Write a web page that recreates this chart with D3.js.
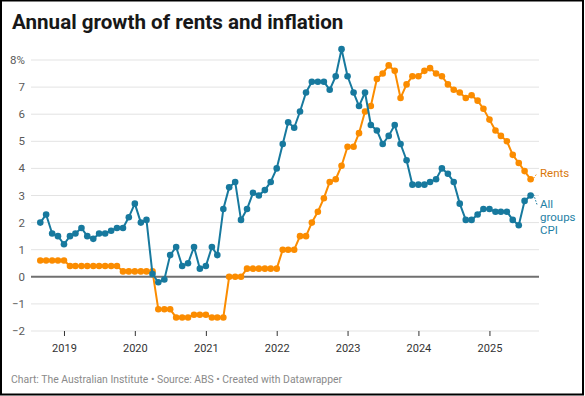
<!DOCTYPE html>
<html>
<head>
<meta charset="utf-8">
<script src="https://cdn.jsdelivr.net/npm/d3@7"></script>
<style>
  body { margin: 0; background: #fff; }
  svg { font-family: Roboto, "Noto Sans", sans-serif; }
</style>
</head>
<body>
<script>
// monthly series, Sep 2018 .. Aug 2025
var startMonth = "2018-09";
var cpi = [2.0, 2.3, 1.6, 1.5, 1.2, 1.5, 1.6, 1.8, 1.5, 1.4, 1.6, 1.6,
  1.7, 1.8, 1.8, 2.2, 2.7, 2.0, 2.1, 0.1, -0.2, -0.1, 0.8, 1.1,
  0.4, 0.5, 1.1, 0.3, 0.4, 1.1, 0.8, 2.5, 3.3, 3.5, 2.1, 2.5,
  3.1, 3.0, 3.2, 3.5, 4.0, 4.9, 5.7, 5.5, 6.1, 6.8, 7.2, 7.2,
  7.2, 6.9, 7.4, 8.4, 7.4, 6.8, 6.3, 6.8, 5.6, 5.4, 4.9, 5.2,
  5.6, 4.9, 4.3, 3.4, 3.4, 3.4, 3.5, 3.6, 4.0, 3.8, 3.5, 2.7,
  2.1, 2.1, 2.3, 2.5, 2.5, 2.4, 2.4, 2.4, 2.1, 1.9, 2.8, 3.0];
var rents = [0.6, 0.6, 0.6, 0.6, 0.6, 0.4, 0.4, 0.4, 0.4, 0.4, 0.4, 0.4,
  0.4, 0.4, 0.2, 0.2, 0.2, 0.2, 0.2, 0.2, -1.2, -1.2, -1.2, -1.5,
  -1.5, -1.5, -1.4, -1.4, -1.4, -1.5, -1.5, -1.5, 0.0, 0.0, 0.0, 0.3,
  0.3, 0.3, 0.3, 0.3, 0.3, 1.0, 1.0, 1.0, 1.5, 1.5, 2.0, 2.4,
  2.9, 3.5, 3.6, 4.1, 4.8, 4.8, 5.3, 6.1, 6.3, 7.3, 7.5, 7.8,
  7.6, 6.6, 7.1, 7.4, 7.4, 7.6, 7.7, 7.5, 7.4, 7.1, 6.9, 6.8,
  6.6, 6.7, 6.5, 6.2, 5.8, 5.4, 5.2, 5.0, 4.5, 4.2, 3.9, 3.6];
var yTicks = [-2, -1, 0, 1, 2, 3, 4, 5, 6, 7, 8];
var years = [2019, 2020, 2021, 2022, 2023, 2024, 2025];

var width = 585, height = 396;
var blue = "#17799e", orange = "#fb8c00";

var svg = d3.select("body").append("svg")
    .attr("width", width)
    .attr("height", height);

// frame
svg.append("rect")
    .attr("x", 1).attr("y", 0.5)
    .attr("width", width - 3).attr("height", height - 2)
    .style("fill", "none")
    .style("stroke", "#000")
    .style("stroke-width", 2);

svg.append("text")
    .text("Annual growth of rents and inflation")
    .attr("x", 12).attr("y", 29)
    .style("font-size", "20.6px")
    .style("font-weight", "bold")
    .style("fill", "#181818");

var parse = d3.timeParse("%Y-%m");
var t0 = parse(startMonth);
var dates = cpi.map((d, i) => d3.timeMonth.offset(t0, i));

var x = d3.scaleTime()
    .domain(d3.extent(dates))
    .range([40.3, 530.6]);
var y = d3.scaleLinear()
    .domain([-2, 8])
    .range([331, 60]);

// gridlines + y labels
var grid = svg.append("g");
grid.selectAll("line").data(yTicks)
    .enter()
    .append("line")
    .attr("x1", 31).attr("x2", 539)
    .attr("y1", d => y(d)).attr("y2", d => y(d))
    .style("stroke", d => d == 0 ? "#707070" : "#e3e3e3")
    .style("stroke-width", d => d == 0 ? 2 : 1);

grid.selectAll("text").data(yTicks)
    .enter()
    .append("text")
    .text(d => d == 8 ? d + "%" : (d < 0 ? "\u2212" + Math.abs(d) : d))
    .attr("x", 25)
    .attr("y", d => y(d) + 4)
    .attr("text-anchor", "end")
    .style("font-size", "11.5px")
    .style("fill", "#5a5a5a");

// x axis
var xAxis = d3.axisBottom(x)
    .tickValues(years.map(yr => new Date(yr, 0, 1)))
    .tickFormat(d3.timeFormat("%Y"))
    .tickSize(5)
    .tickPadding(8);
var gx = svg.append("g")
    .attr("transform", "translate(0,331)")
    .call(xAxis);
gx.select(".domain").remove();
gx.selectAll(".tick line").style("stroke", "#333");
gx.selectAll(".tick text")
    .style("font-family", "Roboto, sans-serif")
    .style("font-size", "11px")
    .style("fill", "#333");

// lines
var line = d3.line()
    .x((d, i) => x(dates[i]))
    .y(d => y(d));

function drawSeries(vals, color) {
    var g = svg.append("g");
    g.append("path")
        .datum(vals)
        .attr("d", line)
        .style("fill", "none")
        .style("stroke", color)
        .style("stroke-width", 2)
        .style("stroke-linejoin", "round");
    g.selectAll("circle").data(vals)
        .enter()
        .append("circle")
        .attr("cx", (d, i) => x(dates[i]))
        .attr("cy", d => y(d))
        .attr("r", 3.3)
        .style("fill", color);
    return g;
}
drawSeries(rents, orange);
drawSeries(cpi, blue);

// direct labels
var last = dates.length - 1;
function label(lines, vals, color, textColor, ly) {
    svg.append("line")
        .attr("x1", x(dates[last]) + 3).attr("y1", y(vals[last]) - 1)
        .attr("x2", 537).attr("y2", ly - 3)
        .style("stroke", color)
        .style("stroke-width", 1)
        .style("stroke-dasharray", "1.5,1.5");
    var t = svg.append("text")
        .attr("x", 540).attr("y", ly)
        .style("font-size", "11.5px")
        .style("fill", textColor);
    t.selectAll("tspan").data(lines)
        .enter()
        .append("tspan")
        .attr("x", 540)
        .attr("dy", (d, i) => i == 0 ? 0 : 13.4)
        .text(d => d);
}
label(["Rents"], rents, orange, "#d9780a", 176.5);
label(["All", "groups", "CPI"], cpi, blue, "#1f7fa5", 207.5);

svg.append("text")
    .text("Chart: The Australian Institute \u2022 Source: ABS \u2022 Created with Datawrapper")
    .attr("x", 11).attr("y", 383)
    .style("font-size", "10.4px")
    .style("fill", "#8a8a8a");
</script>
</body>
</html>
